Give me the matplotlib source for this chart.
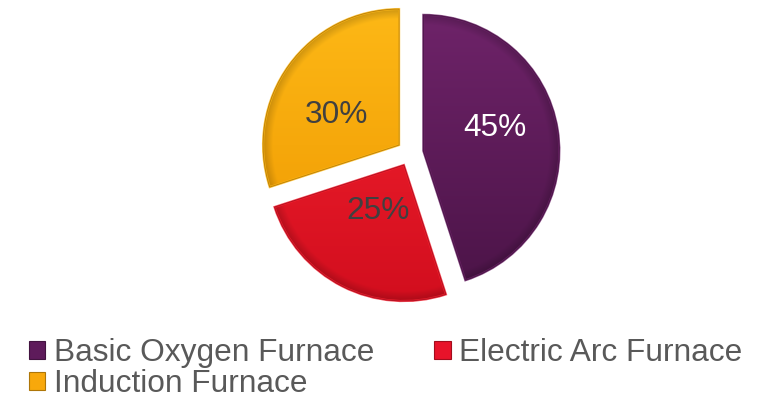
import numpy as np
import matplotlib
matplotlib.use("Agg")
import matplotlib.pyplot as plt
from matplotlib.colors import to_rgb
from matplotlib.patches import Patch, Wedge

plt.rcParams['font.family'] = ['Liberation Sans', 'DejaVu Sans']

categories = ["Basic Oxygen Furnace", "Electric Arc Furnace", "Induction Furnace"]
shares = [45, 25, 30]
base_colors = ["#5e1b5b", "#e8132a", "#f8a80b"]
light_colors = ["#6e2369", "#f5222f", "#fdb816"]
dark_colors = ["#4c1448", "#d20e1e", "#ef9800"]
label_colors = ["white", "#404040", "#404040"]

fig = plt.figure(figsize=(7.66, 4.01), dpi=100)
ax = fig.add_axes([0, 0, 1, 1])

center = (410, 248)
radius = 136
gap = 13.5  # slice offset, in data units
wedges, _ = ax.pie(shares, colors=base_colors, startangle=90, counterclock=False,
                   explode=[gap] * len(shares), center=center, radius=radius,
                   frame=True, wedgeprops=dict(linewidth=0))

ax.set_xlim(0, 766)
ax.set_ylim(0, 401)
ax.set_aspect('equal')
ax.axis('off')


def shade(w, c_top, c_bot, c_base):
    """Fill a wedge with a vertical gradient plus a darker rim."""
    cx, cy = w.center
    r = w.r
    n = 300
    xs = np.linspace(-1, 1, n)
    X, Y = np.meshgrid(xs, xs)
    t = (Y + 1) / 2  # 0 bottom, 1 top
    top = np.array(to_rgb(c_top))
    bot = np.array(to_rgb(c_bot))
    img = bot[None, None, :] * (1 - t[..., None]) + top[None, None, :] * t[..., None]
    R = np.sqrt(X ** 2 + Y ** 2)
    rim = np.clip((R - 0.93) / 0.07, 0, 1)[..., None]
    img = img * (1 - 0.18 * rim)
    im = ax.imshow(np.clip(img, 0, 1), extent=[cx - r, cx + r, cy - r, cy + r],
                   origin='lower', aspect='auto', zorder=2, interpolation='bilinear')
    im.set_clip_path(w)
    # soft bevel along the straight and curved edges
    edge = Wedge((cx, cy), r, w.theta1, w.theta2, facecolor='none',
                 edgecolor=to_rgb(c_top), linewidth=1.6, alpha=0.8, zorder=3)
    ax.add_patch(edge)
    edge2 = Wedge((cx, cy), r, w.theta1, w.theta2, facecolor='none',
                  edgecolor=np.array(to_rgb(c_base)) * 0.75, linewidth=0.6, zorder=3)
    ax.add_patch(edge2)


for w, ct, cb, cbase in zip(wedges, light_colors, dark_colors, base_colors):
    shade(w, ct, cb, cbase)

# percentage labels placed inside each slice
label_dist = [0.556, 0.39, 0.51]
label_turn = [9, -2, 10]
for w, v, col, d, turn in zip(wedges, shares, label_colors, label_dist, label_turn):
    mid = np.deg2rad((w.theta1 + w.theta2) / 2 + turn)
    cx, cy = w.center
    ax.text(cx + d * w.r * np.cos(mid), cy + d * w.r * np.sin(mid), f"{v}%",
            ha='center', va='center', fontsize=22.8, color=col, zorder=5)

# legend: row-wise order in two columns
handles = [Patch(facecolor=c, edgecolor=np.array(to_rgb(c)) * 0.7, linewidth=0.8)
           for c in base_colors]
order = [0, 2, 1]
leg = fig.legend([handles[i] for i in order], [categories[i] for i in order],
                 ncol=2, loc='upper left', bbox_to_anchor=(29 / 766, 1 - 338 / 401),
                 frameon=False, fontsize=22.8, labelcolor='#595959',
                 handlelength=0.52, handleheight=0.52, handletextpad=0.26,
                 columnspacing=1.9, labelspacing=0.04, borderpad=0, borderaxespad=0)

fig.savefig("out.png", dpi=100)
